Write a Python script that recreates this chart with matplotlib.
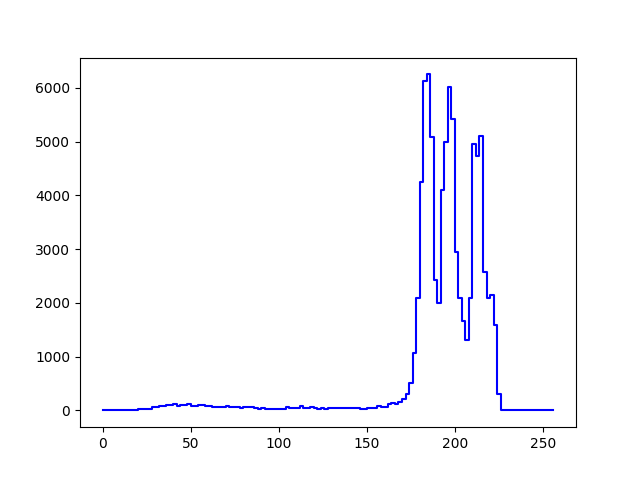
import numpy as np
import matplotlib
matplotlib.use("Agg")
import matplotlib.pyplot as plt

# histogram bin edges (width 2, 0..256)
bin_edges = np.arange(0, 257, 2)

# counts per bin (128 bins)
low_counts = (
    [0] * 10 + [25] * 4 + [56] * 2 + [80] * 2 + [105] * 2 + [118, 87] + [105] * 2 + [118]
    + [87] * 2 + [99] * 2 + [80] * 2 + [62] * 4 + [74] + [62] * 3 + [43] + [62] * 3
    + [43, 25, 43] + [25] * 6 + [56] + [43] * 3 + [80] + [43] * 2 + [62, 43, 25, 43, 25]
    + [43] * 9 + [25] * 2 + [43] * 3
)
rise_counts = [87, 65, 65, 110, 130, 110, 150, 205, 300, 505]
peak_counts = [1065, 2100, 4250, 6120, 6250, 5080, 2420, 2000, 4100, 5000, 6010, 5420,
               2950, 2100, 1660, 1310, 2100, 4960, 4725, 5100, 2580, 2090, 2150, 1590, 300]
tail_counts = [0] * 15

counts = np.array(low_counts + rise_counts + peak_counts + tail_counts, dtype=float)

fig, ax = plt.subplots(figsize=(6.4, 4.8), dpi=100)
ax.step(bin_edges, np.append(counts, counts[-1]), where='post', color='b')
fig.savefig("out.png")
